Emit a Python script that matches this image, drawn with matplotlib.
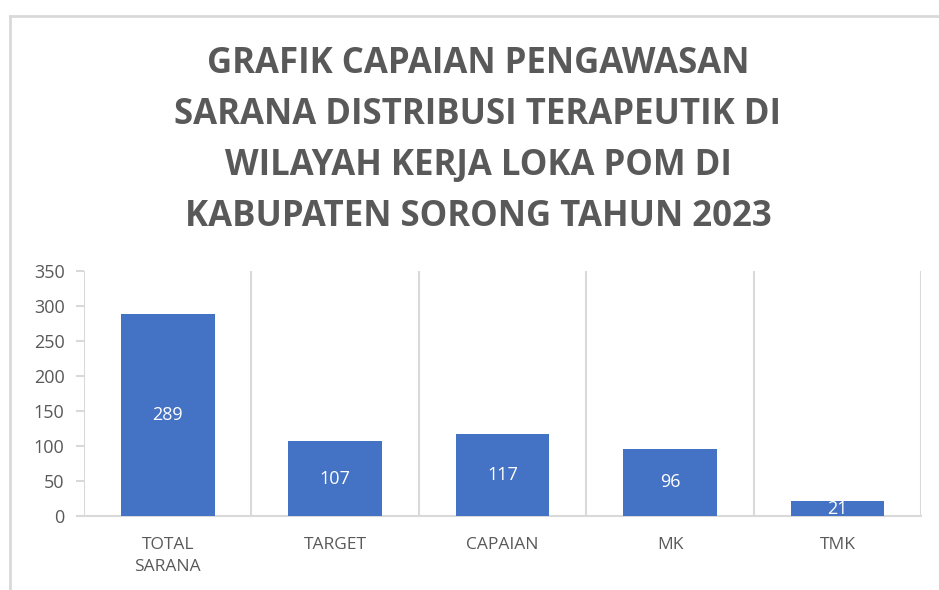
import matplotlib.pyplot as plt
from matplotlib.lines import Line2D

# data
categories = ['TOTAL\nSARANA', 'TARGET', 'CAPAIAN', 'MK', 'TMK']
values = [289, 107, 117, 96, 21]
title = ('GRAFIK CAPAIAN PENGAWASAN\nSARANA DISTRIBUSI TERAPEUTIK DI\n'
         'WILAYAH KERJA LOKA POM DI\nKABUPATEN SORONG TAHUN 2023')

grey = '#595959'
gridc = '#d9d9d9'
blue = '#4472c4'

plt.rcParams['font.family'] = ['Open Sans', 'DejaVu Sans']

fig = plt.figure(figsize=(9.39, 5.90), dpi=100)
ax = fig.add_axes([0.0895, 0.1254, 0.8915, 0.4153])

x = list(range(len(categories)))
bars = ax.bar(x, values, width=0.56, color=blue, zorder=3)
ax.bar_label(bars, label_type='center', color='white', fontsize=13)

ax.set_xlim(-0.5, len(categories) - 0.5)
ax.set_ylim(0, 350)
ax.set_yticks(range(0, 351, 50))
ax.set_xticks(x)
ax.set_xticklabels(categories, color=grey, fontsize=12.5, linespacing=1.48)
ax.tick_params(axis='y', colors=gridc, labelcolor=grey, labelsize=13,
               length=6, width=1.5, pad=8)
ax.tick_params(axis='x', length=0, pad=15)

# vertical separators between categories
for b in [i - 0.5 for i in range(len(categories) + 1)]:
    ax.axvline(b, color=gridc, lw=1.5, zorder=1)

for s in ['top', 'right', 'left']:
    ax.spines[s].set_visible(False)
ax.spines['bottom'].set_color(gridc)
ax.spines['bottom'].set_linewidth(1.5)
ax.spines['bottom'].set_bounds(-0.54, len(categories) - 0.5)

fig.text(0.509, 0.601, title, ha='center', va='bottom', fontsize=25,
         fontweight='bold', color=grey, linespacing=1.56)

# chart frame (top and left edges visible)
fig.add_artist(Line2D([0.0107, 1.0], [0.973, 0.973], color=gridc, lw=2,
                      transform=fig.transFigure))
fig.add_artist(Line2D([0.0107, 0.0107], [0.0, 0.973], color=gridc, lw=2,
                      transform=fig.transFigure))

fig.savefig('out.png', dpi=100)
